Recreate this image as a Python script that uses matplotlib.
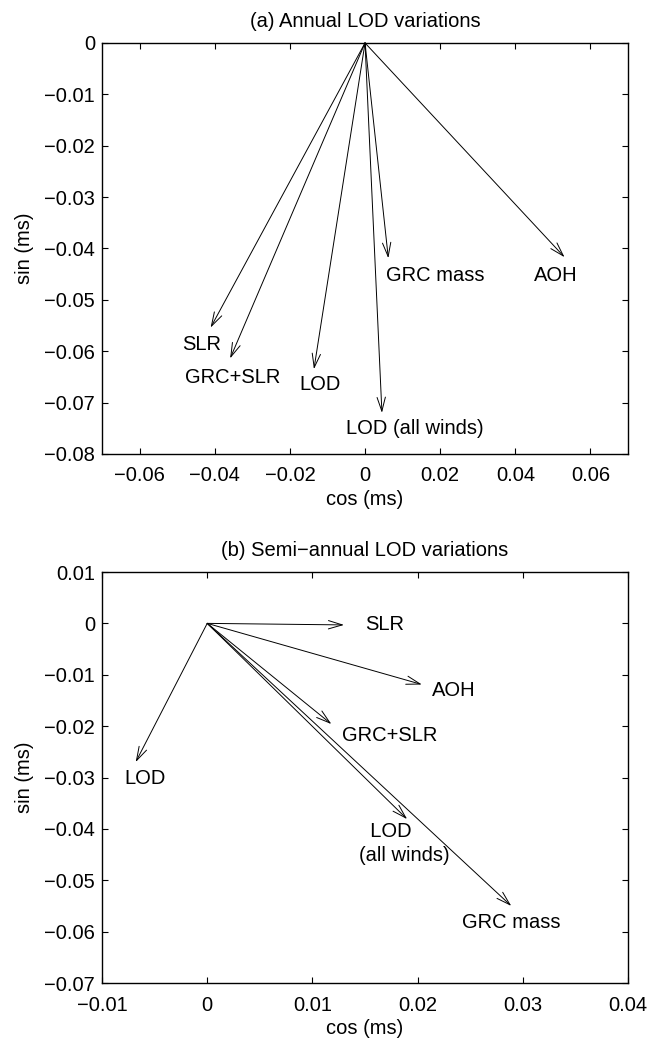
import numpy as np
import matplotlib
matplotlib.use('Agg')
import matplotlib.pyplot as plt
from matplotlib.ticker import FuncFormatter

plt.rcParams['font.family'] = ['Liberation Sans', 'DejaVu Sans']
plt.rcParams['font.size'] = 14.5

# (a) annual: phasor tips (cos, sin) in ms
annual_names = ['SLR', 'GRC+SLR', 'LOD', 'LOD (all winds)', 'GRC mass', 'AOH']
annual_cos = [-0.0411, -0.0359, -0.0136, 0.0045, 0.0062, 0.0531]
annual_sin = [-0.0554, -0.0614, -0.0635, -0.0720, -0.0419, -0.0417]
annual_label_x = [-0.0436, -0.0353, -0.0120, 0.0133, 0.0187, 0.0508]
annual_label_y = [-0.0587, -0.0651, -0.0664, -0.0751, -0.0453, -0.0453]

# (b) semi-annual
semi_names = ['SLR', 'AOH', 'GRC+SLR', 'LOD', '  LOD\n(all winds)', 'GRC mass']
semi_cos = [0.0130, 0.0204, 0.0118, -0.0068, 0.0190, 0.0289]
semi_sin = [-0.0003, -0.0119, -0.0196, -0.0270, -0.0381, -0.0550]
semi_label_x = [0.0169, 0.0234, 0.0173, -0.0059, 0.0187, 0.0289]
semi_label_y = [-0.0002, -0.0130, -0.0219, -0.0301, -0.0429, -0.0583]


def fmt(v, _):
    if abs(v) < 1e-12:
        return '0'
    return ('%g' % round(v, 4)).replace('-', '\u2212')


def phasor_panel(ax, names, xs, ys, lx, ly, title, xlim, ylim, xticks, yticks):
    for x, y in zip(xs, ys):
        ax.annotate('', xy=(x, y), xytext=(0, 0),
                    arrowprops=dict(arrowstyle='->,head_length=1.0,head_width=0.3',
                                    lw=0.7, color='black', shrinkA=0, shrinkB=0,
                                    mutation_scale=10))
    for name, x, y in zip(names, lx, ly):
        ax.text(x, y, name, ha='center', va='center', multialignment='left',
                linespacing=1.35)
    ax.set_xlim(xlim)
    ax.set_ylim(ylim)
    ax.set_xticks(xticks)
    ax.set_yticks(yticks)
    ax.xaxis.set_major_formatter(FuncFormatter(fmt))
    ax.yaxis.set_major_formatter(FuncFormatter(fmt))
    ax.tick_params(direction='in', top=True, right=True, length=4, width=0.8)
    ax.tick_params(axis='x', pad=9)
    ax.tick_params(axis='y', pad=5)
    for s in ax.spines.values():
        s.set_linewidth(1.0)
    ax.set_title(title, fontsize=14.5, pad=11.5)
    ax.set_xlabel('cos (ms)', labelpad=3.5)
    ax.set_ylabel('sin (ms)', labelpad=7)


fig = plt.figure(figsize=(6.57, 10.4), dpi=100)
ax1 = fig.add_axes([0.1553, 0.5635, 0.8006, 0.3952])
ax2 = fig.add_axes([0.1553, 0.0548, 0.8006, 0.3952])

phasor_panel(ax1, annual_names, annual_cos, annual_sin, annual_label_x, annual_label_y,
             '(a) Annual LOD variations', (-0.07, 0.07), (-0.08, 0.0),
             np.arange(-0.06, 0.061, 0.02), np.arange(-0.08, 0.001, 0.01))
phasor_panel(ax2, semi_names, semi_cos, semi_sin, semi_label_x, semi_label_y,
             '(b) Semi\u2212annual LOD variations', (-0.01, 0.04), (-0.07, 0.01),
             np.arange(-0.01, 0.041, 0.01), np.arange(-0.07, 0.011, 0.01))

fig.savefig('out.png', dpi=100)
